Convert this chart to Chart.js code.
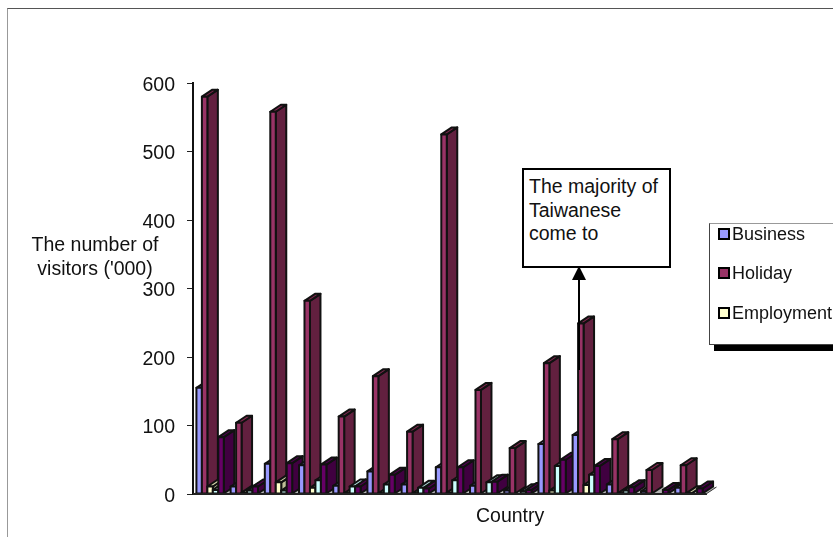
<!DOCTYPE html>
<html>
<head>
<meta charset="utf-8">
<style>
  html, body { margin: 0; padding: 0; background: #fff; overflow: hidden; }
  #wrap { position: relative; width: 833px; height: 537px; overflow: hidden; font-family: "Liberation Sans", Arial, sans-serif; font-size: 19.5px; color: #111; }
  #frame { position: absolute; left: 7px; top: 8px; width: 830px; height: 540px; border-top: 1px solid #555; border-left: 1px solid #999; }
  canvas { position: absolute; left: 0; top: 0; }
  .txt { position: absolute; line-height: 23.5px; white-space: nowrap; }
  #ytitle { left: 15px; width: 160px; top: 233px; text-align: center; }
  #xtitle { left: 476px; top: 504px; }
  #note { left: 522px; top: 168px; border: 2px solid #000; background: #fff; padding: 5px 0 0 5px; width: 140px; height: 91px; }
  #legend { position: absolute; left: 709px; top: 223px; width: 140px; height: 120px; border: 1px solid #444; border-top-color: #999; background: #fff; box-shadow: 5px 6px 0 #000; font-size: 18px; }
  .item { position: absolute; left: 8px; height: 24px; line-height: 22px; padding-left: 14px; white-space: nowrap; }
  .item i { position: absolute; left: 0; top: 5px; width: 8px; height: 8px; border: 2px solid #000; }
</style>
</head>
<body>
<div id="wrap">
  <div id="frame"></div>
  <canvas id="chart" width="833" height="537"></canvas>
  <div class="txt" id="ytitle">The number of<br>visitors ('000)</div>
  <div class="txt" id="xtitle">Country</div>
  <div class="txt" id="note">The majority of<br>Taiwanese<br>come to</div>
  <div id="legend">
    <div class="item" style="top:-1px"><i style="background:#9999ff"></i>Business</div>
    <div class="item" style="top:38px"><i style="background:#993366"></i>Holiday</div>
    <div class="item" style="top:78px"><i style="background:#ffffcc"></i>Employment</div>
  </div>
</div>
<script src="https://cdn.jsdelivr.net/npm/chart.js@4/dist/chart.umd.min.js"></script>
<script>
// values, country names are not shown in it
const categories = ['1', '2', '3', '4', '5', '6', '7', '8', '9', '10', '11', '12', '13', '14', '15'];
const business = [155, 11, 44, 42, 12, 33, 14, 39, 12, 5, 73, 86, 14, 4, 9];
const holiday = [580, 104, 558, 282, 113, 172, 91, 525, 152, 67, 191, 249, 80, 35, 42];
const employment = [11, 2, 17, 9, 1, 1, 1, 2, 0, 0, 5, 13, 1, 0, 1];
const series4 = [6, 5, 5, 20, 11, 14, 9, 20, 17, 4, 41, 28, 5, 0, 0];
const series5 = [83, 11, 45, 43, 11, 28, 8, 39, 18, 6, 50, 41, 10, 6, 8];
const yTicks = [0, 100, 200, 300, 400, 500, 600];

const seriesNames = ['Business', 'Holiday', 'Employment', 'Series 4', 'Series 5'];
const seriesValues = [business, holiday, employment, series4, series5];
const frontColors = ['#9999ff', '#993366', '#ffffcc', '#ccffff', '#660066'];
const sideColors = ['#7272bf', '#62203f', '#bfbf99', '#99bfbf', '#400040'];
const topColors = ['#8080d5', '#80284f', '#d5d5aa', '#aad5d5', '#500050'];
const DX = 10.5, DY = 7; // depth of the fake 3d

function poly(ctx, pts, fill, stroke) {
    ctx.beginPath();
    pts.forEach((p, i) => i ? ctx.lineTo(p[0], p[1]) : ctx.moveTo(p[0], p[1]));
    ctx.closePath();
    ctx.fillStyle = fill;
    ctx.fill();
    if (stroke) {
        ctx.strokeStyle = stroke;
        ctx.lineWidth = 2;
        ctx.lineJoin = 'round';
        ctx.stroke();
    }
}

// draws the floor and then the bars as 3d columns, left to right
const columns3d = {
    id: 'columns3d',
    afterDatasetsDraw(chart) {
        const ctx = chart.ctx;
        const area = chart.chartArea;
        const y0 = chart.scales.y.getPixelForValue(0);
        ctx.save();
        poly(ctx, [[area.left, y0], [area.left + DX, y0 - DY], [area.right + DX, y0 - DY], [area.right, y0]], '#b4b4b4');
        ctx.strokeStyle = '#333';
        ctx.lineWidth = 1;
        ctx.beginPath();
        ctx.moveTo(area.right, y0);
        ctx.lineTo(area.right + DX, y0 - DY);
        ctx.stroke();
        categories.forEach((c, i) => {
            seriesValues.forEach((vals, s) => {
                const bar = chart.getDatasetMeta(s).data[i];
                const w = bar.width / 2;
                const l = bar.x - w, r = bar.x + w, t = bar.y, b = bar.base;
                if (vals[i] <= 0) return;
                poly(ctx, [[r, t], [r + DX, t - DY], [r + DX, b - DY], [r, b]], sideColors[s], '#111');
                poly(ctx, [[l, t], [l + DX, t - DY], [r + DX, t - DY], [r, t]], topColors[s], '#111');
                poly(ctx, [[l, t], [r, t], [r, b], [l, b]], frontColors[s], '#111');
            });
        });
        ctx.strokeStyle = '#222';
        ctx.lineWidth = 2;
        ctx.beginPath();
        ctx.moveTo(area.left, y0);
        ctx.lineTo(area.right, y0);
        ctx.stroke();
        // arrow up to the note box
        ctx.strokeStyle = '#000';
        ctx.beginPath();
        ctx.moveTo(579, 370);
        ctx.lineTo(579, 278);
        ctx.stroke();
        poly(ctx, [[579, 266], [586, 280], [572, 280]], '#000');
        ctx.restore();
    }
};

new Chart(document.getElementById('chart').getContext('2d'), {
    type: 'bar',
    data: {
        labels: categories,
        datasets: seriesNames.map((name, s) => ({
            label: name,
            data: seriesValues[s],
            backgroundColor: frontColors[s],
            categoryPercentage: 0.8,
            barPercentage: 1
        }))
    },
    options: {
        responsive: false,
        animation: false,
        layout: { padding: { top: 83, right: 127, bottom: 43, left: 0 } },
        plugins: { legend: { display: false }, tooltip: { enabled: false } },
        scales: {
            x: {
                ticks: { display: false },
                grid: { display: false },
                border: { color: '#222', width: 2 },
                afterFit(scale) { scale.height = 0; }
            },
            y: {
                min: 0,
                max: 600,
                afterBuildTicks(scale) { scale.ticks = yTicks.map(v => ({ value: v })); },
                ticks: {
                    color: '#111',
                    padding: 12,
                    // blank first line pushes the numbers a bit under their tick
                    callback: v => ['', String(v)],
                    font: { family: '"Liberation Sans", Arial, sans-serif', size: 19.5, lineHeight: '5px' }
                },
                grid: { drawOnChartArea: false, color: '#222', tickLength: 6 },
                border: { color: '#111', width: 2 },
                afterFit(scale) { scale.width = 193; }
            }
        }
    },
    plugins: [columns3d]
});
</script>
</body>
</html>
